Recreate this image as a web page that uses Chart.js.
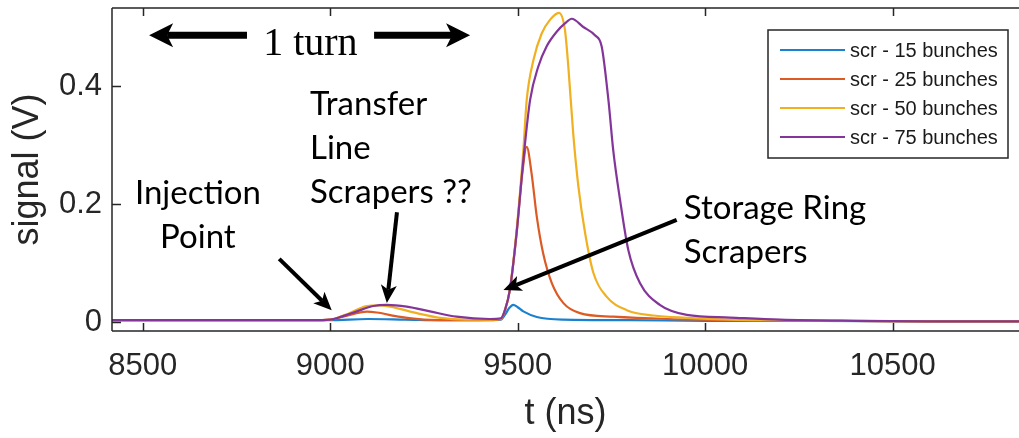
<!DOCTYPE html>
<html>
<head>
<meta charset="utf-8">
<script src="https://cdn.jsdelivr.net/npm/chart.js@4"></script>
<style>
  html, body { margin: 0; padding: 0; background: #fff; }
  #wrap { width: 1019px; height: 438px; }
</style>
</head>
<body>
<div id="wrap"><canvas id="grafico" width="1019" height="438"></canvas></div>
<script>
// scope traces: t in ns, signal in V
const t15 = [8418, 8600, 8800, 9000, 9100, 9200, 9300, 9455, 9466, 9478, 9488, 9500, 9515, 9551, 9622, 9800, 10000, 10300, 10600, 10837];
const v15 = [0.003, 0.003, 0.003, 0.003, 0.005, 0.004, 0.003, 0.004, 0.012, 0.024, 0.029, 0.025, 0.018, 0.0085, 0.004, 0.003, 0.002, 0.002, 0.001, 0.001];

const t25 = [8418, 8600, 8800, 8950, 9000, 9040, 9098, 9124, 9187, 9249, 9350, 9426, 9455, 9466, 9479, 9497, 9512, 9524, 9537, 9551, 9568, 9591, 9622, 9666, 9755, 9900, 10066, 10300, 10600, 10837];
const v25 = [0.003, 0.003, 0.003, 0.003, 0.004, 0.01, 0.0175, 0.016, 0.0085, 0.004, 0.003, 0.003, 0.005, 0.02, 0.054, 0.15, 0.25, 0.297, 0.252, 0.178, 0.116, 0.066, 0.032, 0.015, 0.009, 0.005, 0.003, 0.002, 0.001, 0.001];

const t50 = [8418, 8600, 8800, 8950, 9000, 9040, 9098, 9130, 9160, 9231, 9293, 9360, 9426, 9455, 9466, 9479, 9497, 9515, 9524, 9542, 9564, 9586, 9610, 9626, 9635, 9648, 9662, 9680, 9702, 9737, 9791, 9862, 9950, 10066, 10200, 10400, 10600, 10837];
const v50 = [0.003, 0.003, 0.003, 0.003, 0.004, 0.012, 0.027, 0.028, 0.026, 0.015, 0.007, 0.004, 0.004, 0.005, 0.02, 0.054, 0.155, 0.29, 0.376, 0.444, 0.489, 0.512, 0.524, 0.495, 0.433, 0.32, 0.229, 0.15, 0.083, 0.043, 0.02, 0.011, 0.007, 0.004, 0.003, 0.002, 0.001, 0.001];

const t75 = [8418, 8600, 8800, 8950, 9000, 9030, 9071, 9115, 9151, 9204, 9266, 9337, 9426, 9455, 9466, 9479, 9497, 9515, 9533, 9555, 9577, 9604, 9626, 9644, 9675, 9706, 9724, 9742, 9755, 9773, 9795, 9826, 9879, 9951, 10066, 10200, 10400, 10600, 10837];
const v75 = [0.003, 0.003, 0.003, 0.003, 0.004, 0.009, 0.018, 0.027, 0.029, 0.026, 0.018, 0.009, 0.005, 0.006, 0.02, 0.054, 0.15, 0.274, 0.376, 0.433, 0.467, 0.492, 0.506, 0.514, 0.5, 0.486, 0.467, 0.376, 0.29, 0.207, 0.122, 0.066, 0.029, 0.012, 0.0075, 0.004, 0.002, 0.001, 0.001];

const seriesLabels = ['scr - 15 bunches', 'scr - 25 bunches', 'scr - 50 bunches', 'scr - 75 bunches'];
const xTicks = [8500, 9000, 9500, 10000, 10500];
const yTicks = [0, 0.2, 0.4];

const cores = ['#1a80d0', '#dc5a24', '#f0b020', '#83359a'];
const eixo = '#262626';

// annotation anchors, in data units (t, V)
const notas = [
  { lines: ['Injection', 'Point'], t: 8647, v: 0.200, align: 'center' },
  { lines: ['Transfer', 'Line', 'Scrapers ??'], t: 8946, v: 0.351, align: 'left' },
  { lines: ['Storage Ring', 'Scrapers'], t: 9943, v: 0.175, align: 'left' }
];
const setas = [
  { from: [8864, 0.107], to: [9004, 0.020] },
  { from: [9178, 0.186], to: [9151, 0.032] },
  { from: [9924, 0.173], to: [9462, 0.054] }
];
const turno = { text: '1 turn', t: 8947, v: 0.471, left: [8778, 8517], right: [9117, 9373], v2: 0.486 };

function toPts(ts, vs) {
  return ts.map((t, i) => ({ x: t, y: vs[i] }));
}

function seta(ctx, x0, y0, x1, y1, w, len, half) {
  const a = Math.atan2(y1 - y0, x1 - x0);
  const c = Math.cos(a), s = Math.sin(a);
  const bx = x1 - len * c, by = y1 - len * s;
  const nx = x1 - len * 0.75 * c, ny = y1 - len * 0.75 * s;
  ctx.lineWidth = w;
  ctx.beginPath();
  ctx.moveTo(x0, y0);
  ctx.lineTo(nx, ny);
  ctx.stroke();
  ctx.beginPath();
  ctx.moveTo(x1, y1);
  ctx.lineTo(bx - half * s, by + half * c);
  ctx.lineTo(nx, ny);
  ctx.lineTo(bx + half * s, by - half * c);
  ctx.closePath();
  ctx.fill();
}

const moldura = {
  id: 'moldura',
  afterDatasetsDraw(chart) {
    const { ctx, chartArea: a, scales: { x, y } } = chart;
    ctx.save();
    ctx.strokeStyle = eixo;
    ctx.lineWidth = 1.5;
    ctx.beginPath();
    ctx.moveTo(a.left, a.top); ctx.lineTo(a.right, a.top);
    ctx.moveTo(a.left, a.top); ctx.lineTo(a.left, a.bottom);
    ctx.moveTo(a.left, a.bottom); ctx.lineTo(a.right, a.bottom);
    xTicks.forEach(v => {
      const px = Math.round(x.getPixelForValue(v)) + 0.5;
      ctx.moveTo(px, a.bottom); ctx.lineTo(px, a.bottom - 8);
      ctx.moveTo(px, a.top); ctx.lineTo(px, a.top + 8);
    });
    yTicks.forEach(v => {
      const py = Math.round(y.getPixelForValue(v)) + 0.5;
      ctx.moveTo(a.left, py); ctx.lineTo(a.left + 9, py);
    });
    ctx.stroke();

    // legend box inside the axes, top right
    const lx = 768, ly = 30, lw = 240, lh = 128;
    ctx.fillStyle = '#fff';
    ctx.fillRect(lx, ly, lw, lh);
    ctx.strokeRect(lx, ly, lw, lh);
    ctx.font = "20px 'Liberation Sans', Arial, sans-serif";
    ctx.textBaseline = 'middle';
    ctx.textAlign = 'left';
    chart.data.datasets.forEach((ds, i) => {
      const yy = ly + 20 + i * 29;
      ctx.strokeStyle = ds.borderColor;
      ctx.lineWidth = 2;
      ctx.beginPath(); ctx.moveTo(lx + 12, yy); ctx.lineTo(lx + 77, yy); ctx.stroke();
      ctx.fillStyle = '#1a1a1a';
      ctx.fillText(ds.label, lx + 82, yy + 1);
    });

    // annotations
    ctx.fillStyle = '#000';
    ctx.strokeStyle = '#000';
    ctx.font = "33px Lato, 'Open Sans', sans-serif";
    ctx.textBaseline = 'alphabetic';
    notas.forEach(n => {
      ctx.textAlign = n.align;
      const px = x.getPixelForValue(n.t), py = y.getPixelForValue(n.v);
      n.lines.forEach((ln, k) => ctx.fillText(ln, px, py + k * 44));
    });
    setas.forEach(s => {
      seta(ctx, x.getPixelForValue(s.from[0]), y.getPixelForValue(s.from[1]),
        x.getPixelForValue(s.to[0]), y.getPixelForValue(s.to[1]), 4, 18, 8);
    });
    ctx.font = "40px 'Liberation Serif', 'Times New Roman', serif";
    ctx.textAlign = 'center';
    ctx.textBaseline = 'middle';
    ctx.fillText(turno.text, x.getPixelForValue(turno.t), y.getPixelForValue(turno.v));
    const yA = y.getPixelForValue(turno.v2);
    seta(ctx, x.getPixelForValue(turno.left[0]), yA, x.getPixelForValue(turno.left[1]), yA, 7, 24, 12);
    seta(ctx, x.getPixelForValue(turno.right[0]), yA, x.getPixelForValue(turno.right[1]), yA, 7, 24, 12);
    ctx.restore();
  }
};

Chart.defaults.font.family = "'Liberation Sans', Arial, sans-serif";
Chart.defaults.color = eixo;

const series = [[t15, v15], [t25, v25], [t50, v50], [t75, v75]];

new Chart(document.getElementById('grafico'), {
  type: 'line',
  data: {
    datasets: series.map(([ts, vs], i) => ({
      label: seriesLabels[i],
      data: toPts(ts, vs),
      borderColor: cores[i],
      backgroundColor: cores[i],
      borderWidth: 2.2,
      pointRadius: 0,
      cubicInterpolationMode: 'monotone',
      order: series.length - 1 - i
    }))
  },
  options: {
    responsive: false,
    animation: false,
    devicePixelRatio: 1,
    layout: { padding: { top: 8, right: 0, left: 0, bottom: 0 } },
    plugins: { legend: { display: false }, tooltip: { enabled: false } },
    scales: {
      x: {
        type: 'linear',
        min: 8418,
        max: 10837,
        afterBuildTicks: s => { s.ticks = xTicks.map(v => ({ value: v })); },
        afterFit: s => { s.height = 107; s.paddingLeft = 0; s.paddingRight = 0; },
        grid: { display: false, drawTicks: false },
        border: { display: false },
        ticks: { font: { size: 31 }, padding: 17, maxRotation: 0, color: eixo, callback: v => String(v) },
        title: { display: true, text: 't (ns)', font: { size: 36 }, padding: { top: 0, bottom: 2 }, color: eixo }
      },
      y: {
        min: -0.0153,
        max: 0.5322,
        afterBuildTicks: s => { s.ticks = yTicks.map(v => ({ value: v })); },
        afterFit: s => { s.width = 112; s.paddingTop = 0; s.paddingBottom = 0; },
        grid: { display: false, drawTicks: false },
        border: { display: false },
        ticks: { font: { size: 31 }, padding: 10, color: eixo, callback: v => String(v) },
        title: { display: true, text: 'signal (V)', font: { size: 36 }, padding: { top: 6, bottom: 0 }, color: eixo }
      }
    }
  },
  plugins: [moldura]
});
</script>
</body>
</html>
